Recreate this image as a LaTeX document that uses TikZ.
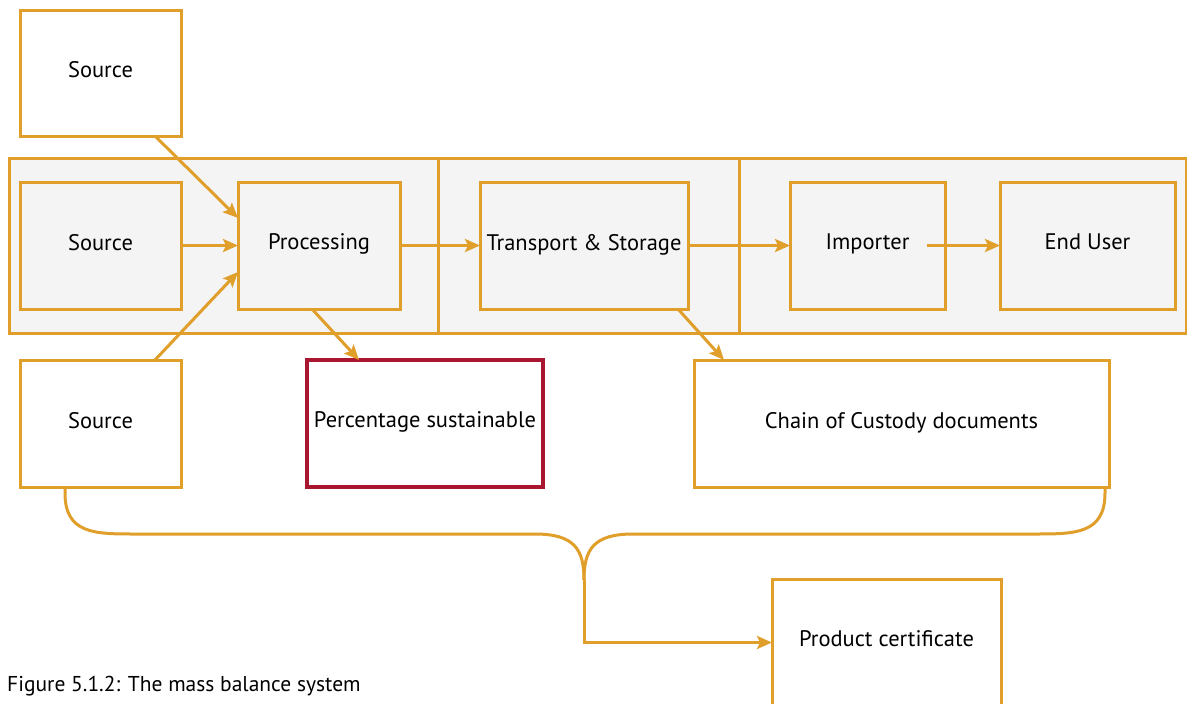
\documentclass[tikz,border=0pt]{standalone}
\usepackage{fontspec}
\setmainfont{PT Sans}
\usetikzlibrary{arrows.meta}
\definecolor{gold}{HTML}{E09E2A}
\definecolor{bandgray}{HTML}{F4F4F4}
\definecolor{crimson}{HTML}{A8162F}
\tikzset{
  box/.style={draw=gold, line width=3pt, inner sep=0pt, outer sep=0pt, fill=white,
    font=\fontsize{22.5}{26}\selectfont, text=black, text depth=7pt},
  graybox/.style={box, fill=bandgray},
  stagebox/.style={draw=gold, line width=3pt, fill=bandgray, inner sep=0pt, outer sep=0pt},
  redbox/.style={box, draw=crimson, line width=4.2pt},
  flow/.style={draw=gold, line width=3pt, -{Stealth[length=15pt,width=13pt,inset=3pt]}},
  brace/.style={draw=gold, line width=3pt}
}
\begin{document}
\begin{tikzpicture}[x=1pt,y=-1pt]
\useasboundingbox (0,0) rectangle (1187,704);
\clip (0,0) rectangle (1187,704);
% stage band
\node[stagebox, minimum width=429, minimum height=175] (st1) at (223.5,245.5) {};
\node[stagebox, minimum width=301, minimum height=175] (st2) at (588.5,245.5) {};
\node[stagebox, minimum width=447, minimum height=175] (st3) at (962.5,245.5) {};
% nodes
\node[box, minimum width=161, minimum height=126] (s1) at (100.5,73) {Source};
\node[graybox, minimum width=161, minimum height=127] (s2) at (100.5,245.5) {Source};
\node[graybox, minimum width=162, minimum height=127] (proc) at (319,245.5) {Processing};
\node[graybox, minimum width=208, minimum height=127] (ts) at (584,245.5) {Transport \& Storage};
\node[graybox, minimum width=155, minimum height=127] (imp) at (867.5,245.5) {Importer};
\node[graybox, minimum width=175, minimum height=127] (eu) at (1087.5,245.5) {End User};
\node[box, minimum width=161, minimum height=127] (s3) at (100.5,423.5) {Source};
\node[redbox, minimum width=236, minimum height=127] (pct) at (425,423.5) {Percentage sustainable};
\node[box, minimum width=415, minimum height=127] (coc) at (901.5,423.5) {Chain of Custody documents};
\node[box, minimum width=229, minimum height=127] (pc) at (886.5,642.5) {Product certificate};
\node[anchor=west, inner sep=0pt, font=\fontsize{21.5}{24}\selectfont, text=black] (cap) at (7,686) {Figure 5.1.2: The mass balance system};
% connectors
\draw[flow] ([xshift=135]s1.south west) -- ([yshift=27.5]proc.west);
\draw[flow] (s2.east) -- (proc.west);
\draw[flow] ([xshift=135]s3.north west) -- ([yshift=-26.5]proc.west);
\draw[flow] (proc.east) -- (ts.west);
\draw[flow] (ts.east) -- (imp.west);
\draw[flow] ([xshift=-18]imp.east) -- (eu.west);
\draw[flow] ([xshift=74]proc.south west) -- ([xshift=52]pct.north west);
\draw[flow] ([xshift=-10]ts.south east) -- ([xshift=30]coc.north west);
% brace
\coordinate (cusp) at (584,580);
\draw[brace] ([xshift=45]s3.south west) -- ++(0,6) .. controls (65,534) and (95,534) .. (135,534) -- (535,534) .. controls (575,534) and (584,550) .. (cusp);
\draw[brace] ([xshift=-4]coc.south east) -- ++(0,6) .. controls (1105,534) and (1075,534) .. (1035,534) -- (633,534) .. controls (593,534) and (584,550) .. (cusp);
\draw[flow] (cusp) |- (pc.west);
\end{tikzpicture}
\end{document}
